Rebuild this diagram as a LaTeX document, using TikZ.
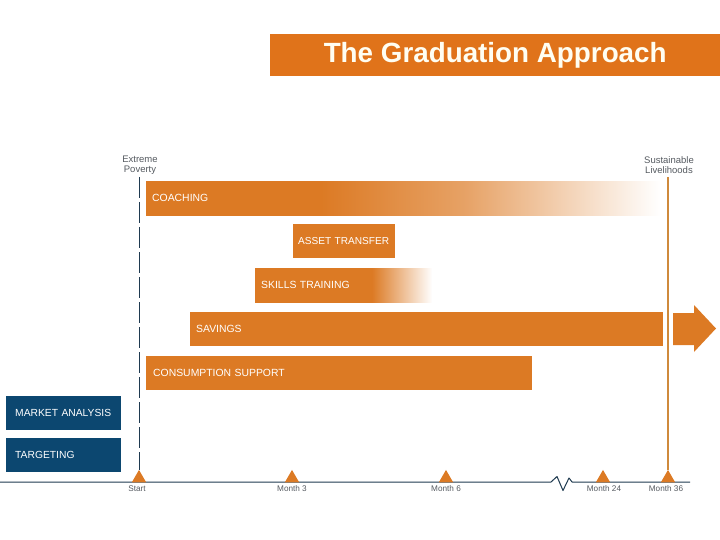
\documentclass[tikz,border=0pt]{standalone}
\usepackage{fontspec}
\setmainfont{Liberation Sans}
\usetikzlibrary{shapes.geometric}
\definecolor{titleor}{HTML}{E0731A}
\definecolor{baror}{HTML}{DC7A24}
\definecolor{navy}{HTML}{0C4770}
\definecolor{lineblue}{HTML}{1F3A50}
\definecolor{txtgray}{HTML}{555A60}
\definecolor{goldline}{HTML}{CF8A3C}
\pgfdeclarehorizontalshading{coachfade}{100bp}{color(0bp)=(baror); color(25bp)=(baror); color(42bp)=(baror); color(56bp)=(baror!70!white); color(75bp)=(white); color(100bp)=(white)}
\pgfdeclarehorizontalshading{skillfade}{100bp}{color(0bp)=(baror); color(25bp)=(baror); color(58bp)=(baror); color(75bp)=(white); color(100bp)=(white)}
\tikzset{
  x=1pt, y=-1pt,
  bar/.style={anchor=north west, minimum height=34pt, inner ysep=0pt, inner xsep=6pt,
    align=left, text=white, font=\fontsize{10.4}{11}\selectfont},
  solidbar/.style={bar, fill=baror},
  bluebar/.style={bar, fill=navy, inner xsep=9pt, font=\fontsize{10.3}{11}\selectfont},
  tri/.style={regular polygon, regular polygon sides=3, minimum size=16.5pt, inner sep=0pt, fill=baror, anchor=south},
  ticklabel/.style={text=txtgray, font=\fontsize{8.2}{9}\selectfont, inner sep=0pt},
  endlabel/.style={text=txtgray, font=\fontsize{9.5}{9.5}\selectfont, align=center, inner sep=0pt},
  startline/.style={draw=lineblue, line width=0.9pt, dash pattern=on 21pt off 4pt},
  endline/.style={draw=goldline, line width=1.1pt},
  timeline/.style={draw=lineblue, line width=1pt}
}
\begin{document}
\begin{tikzpicture}
\useasboundingbox (0,0) rectangle (720,540);
% title
\node[fill=titleor, anchor=north west, minimum width=450pt, minimum height=42pt, inner sep=0pt,
      text=white!95!yellow, font=\fontsize{27.8}{29}\selectfont\bfseries] (title) at (270,34) {The Graduation Approach};
% end labels
\node[endlabel] (ep) at (140,165) {Extreme\\Poverty};
\node[endlabel] (sl) at (669,165) {Sustainable\\Livelihoods};
% timeline
\coordinate (tl0) at (0,482);
\coordinate (tl1) at (690,482);
\draw[timeline, line join=round] (tl0) -- (551,482) -- (557,476.5) -- (563,490.5) -- (569,478) -- (572,482) -- (tl1);
% triangles on the timeline
\node[tri] (t0) at (139,482.5) {};
\node[tri] (t3) at (292,482.5) {};
\node[tri] (t6) at (446,482.5) {};
\node[tri] (t24) at (603,482.5) {};
\node[tri] (t36) at (668,482.5) {};
% vertical lines
\coordinate (s0) at (139,177);
\coordinate (s36) at (668,177);
\draw[startline] (s0) -- (t0.north);
\draw[endline] (s36) -- (t36.north);
% bars
\node[bar, shading=coachfade, text width=502pt] (coach) at (146,181) {COACHING};
\node[solidbar, text width=92pt, inner xsep=5pt, font=\fontsize{10.1}{11}\selectfont] (asset) at (293,224) {\mbox{ASSET TRANSFER}};
\node[bar, shading=skillfade, text width=165pt] (skill) at (255,268) {SKILLS TRAINING};
\node[solidbar, text width=461pt] (sav) at (190,312) {SAVINGS};
\node[solidbar, text width=372pt, inner xsep=7pt] (cons) at (146,356) {CONSUMPTION SUPPORT};
\node[bluebar, text width=97pt] (mkt) at (6,396) {MARKET ANALYSIS};
\node[bluebar, text width=97pt] (tgt) at (6,438) {TARGETING};
% arrow
\fill[baror] (673,313) -- (694,313) -- (694,305) -- (716,328.5) -- (694,352) -- (694,345) -- (673,345) -- cycle;
% tick labels
\node[ticklabel] (l0) at (137,488.5) {Start};
\node[ticklabel] (l3) at (292,488.5) {Month 3};
\node[ticklabel] (l6) at (446,488.5) {Month 6};
\node[ticklabel] (l24) at (604,488.5) {Month 24};
\node[ticklabel] (l36) at (666,488.5) {Month 36};
\end{tikzpicture}
\end{document}
